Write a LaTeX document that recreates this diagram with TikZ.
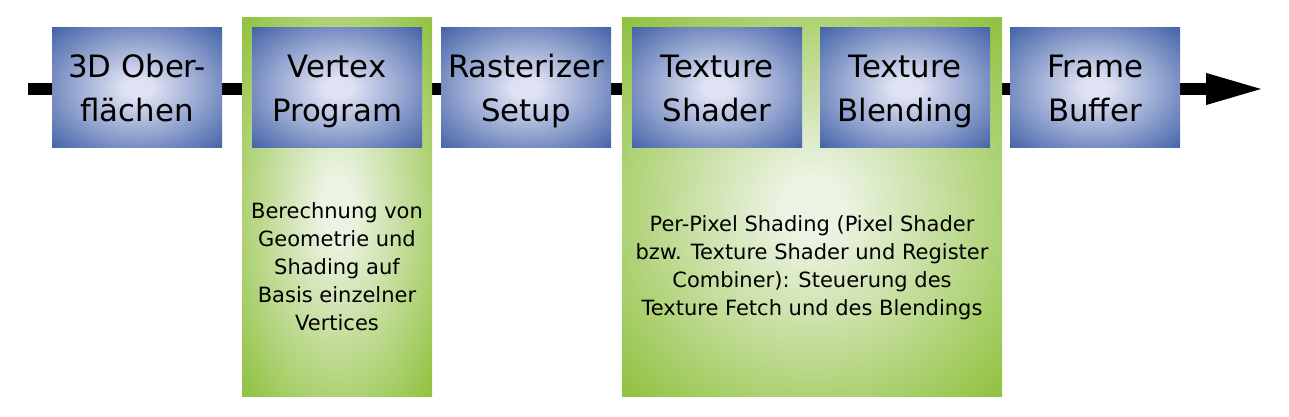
\documentclass[tikz,border=0pt]{standalone}
\usepackage{fontspec}
\setmainfont{DejaVu Sans}
\usetikzlibrary{arrows.meta}
\definecolor{stageblue}{HTML}{3C5DA5}
\definecolor{stagelight}{HTML}{DFE2F3}
\definecolor{panelgreen}{HTML}{8DC03A}
\definecolor{panellight}{HTML}{ECF3E3}
\pgfdeclareradialshading{stageshade}{\pgfpoint{0bp}{0bp}}{color(0bp)=(stagelight); color(4bp)=(stagelight); color(37bp)=(stageblue); color(50bp)=(stageblue)}
\pgfdeclareradialshading{panelshade}{\pgfpoint{0bp}{0bp}}{color(0bp)=(panellight); color(4bp)=(panellight); color(36bp)=(panelgreen); color(50bp)=(panelgreen)}
\tikzset{
	stage/.style={minimum width=85pt, minimum height=60pt, inner sep=0pt, shading=stageshade, align=center, font=\fontsize{15.4}{22}\selectfont, text height=34pt, text depth=0pt},
	panel/.style={minimum width=95pt, minimum height=189.5pt, inner sep=0pt, shading=panelshade},
	note/.style={align=center, font=\fontsize{10.5}{14}\selectfont},
	flow/.style={line width=6pt, -{Triangle[length=30pt,width=14pt]}}
}

\begin{document}
\begin{tikzpicture}[x=0.5pt,y=0.5pt]
			\useasboundingbox (0,0) rectangle (1289,417);
			\coordinate (in) at (28,328);
			\coordinate (out) at (1266,328);
			\draw [flow] (in) -- (out);
			% hinterlegte Bereiche
			\node (vpanel) [panel] at (337,209.5) {};
			\node (ppanel) [panel, minimum width=190pt] at (812,209.5) {};
			% Stufen der Pipeline
			\node (surf) [stage] at (137,329) {3D Ober-\\flächen};
			\node (vertex) [stage] at (337,329) {Vertex\\Program};
			\node (raster) [stage] at (526,329) {Rasterizer\\Setup};
			\node (texshade) [stage] at (717,329) {Texture\\Shader};
			\node (texblend) [stage] at (905,329) {Texture\\Blending};
			\node (frame) [stage] at (1095,329) {Frame\\Buffer};
			% Beschreibungen
			\node (vnote) [note] at (337,150) {Berechnung von\\Geometrie und\\Shading auf\\Basis einzelner\\Vertices};
			\node (pnote) [note] at (812,149) {Per-Pixel Shading (Pixel Shader\\bzw. Texture Shader und Register\\Combiner): Steuerung des\\Texture Fetch und des Blendings};
		\end{tikzpicture}
\end{document}
